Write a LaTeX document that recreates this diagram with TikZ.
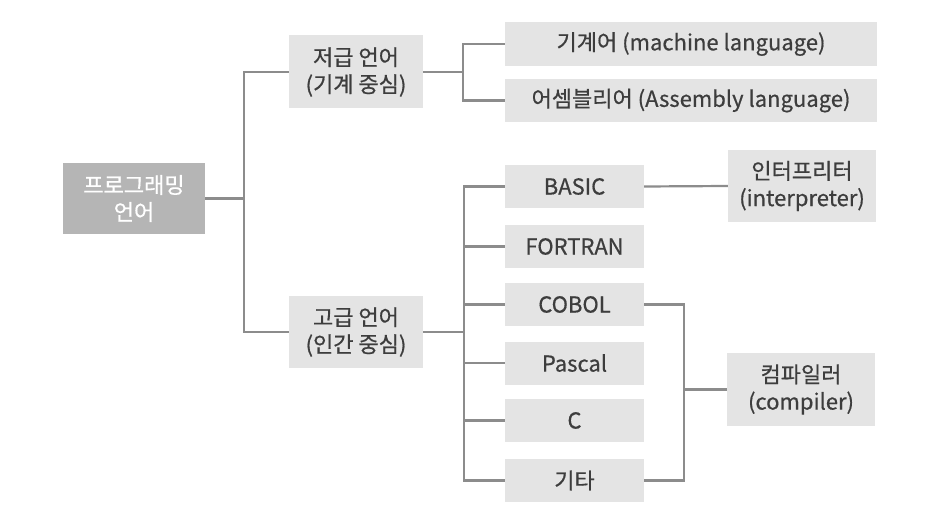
\documentclass[tikz,border=0pt]{standalone}
\usepackage{fontspec}
\setmainfont[FakeBold=0.6]{Noto Sans CJK KR}
\usepackage{xcolor}
\usepackage{tikz}

\definecolor{boxgray}{HTML}{E4E4E4}
\definecolor{rootgray}{HTML}{B5B5B5}
\definecolor{linegray}{HTML}{8C8C8C}
\definecolor{textgray}{HTML}{3D3D3D}

\begin{document}
\begin{tikzpicture}[x=1pt,y=-1pt,
	box/.style={fill=boxgray,text=textgray,inner sep=0pt,align=center,font=\fontsize{22}{27}\selectfont},
	rootbox/.style={box,fill=rootgray,text=white},
	link/.style={draw=linegray,line width=2.2pt}]
	\useasboundingbox (0,0) rectangle (947,521);
	\node[rootbox,minimum width=142pt,minimum height=71pt] at (134,198.5) (root) {프로그래밍\\언어};
	\node[box,minimum width=134pt,minimum height=73pt] at (356,72) (low) {저급 언어\\(기계 중심)};
	\node[box,minimum width=134pt,minimum height=72pt] at (356,332) (high) {고급 언어\\(인간 중심)};
	\node[box,minimum width=372pt,minimum height=44pt] at (691,44) (machine) {기계어 (machine language)};
	\node[box,minimum width=372pt,minimum height=43pt] at (691,100.5) (assembly) {어셈블리어 (Assembly language)};
	\node[box,minimum width=139pt,minimum height=43pt] at (574.5,186.5) (basic) {BASIC};
	\node[box,minimum width=139pt,minimum height=43pt] at (574.5,246.5) (fortran) {FORTRAN};
	\node[box,minimum width=139pt,minimum height=43pt] at (574.5,304.5) (cobol) {COBOL};
	\node[box,minimum width=139pt,minimum height=43pt] at (574.5,363) (pascal) {Pascal};
	\node[box,minimum width=139pt,minimum height=43pt] at (574.5,420.5) (c) {C};
	\node[box,minimum width=139pt,minimum height=43pt] at (574.5,480.5) (etc) {기타};
	\node[box,minimum width=148pt,minimum height=72pt] at (802,186) (interp) {인터프리터\\(interpreter)};
	\node[box,minimum width=148pt,minimum height=73pt] at (801,389.5) (compiler) {컴파일러\\(compiler)};
	\coordinate (rj) at (244,198.5);
	\coordinate (lj) at (463,72);
	\coordinate (hj) at (464,332);
	\coordinate (cj) at (684,389.5);
	\draw[link] (root.east) -- (rj);
	\draw[link] (low.west) -| (rj) |- (high.west);
	\draw[link] (low.east) -- (lj);
	\draw[link] (machine.west) -| (lj) |- (assembly.west);
	\draw[link] (high.east) -- (hj);
	\draw[link] (basic.west) -| (hj) |- (etc.west);
	\foreach \n in {fortran,cobol,pascal,c}
		\draw[link] (\n.west) -- (\n.west -| hj);
	\draw[link] (basic.east) -- (interp.west);
	\draw[link] (cobol.east) -| (cj) |- (etc.east);
	\draw[link] (cj) -- (compiler.west);
\end{tikzpicture}
\end{document}
